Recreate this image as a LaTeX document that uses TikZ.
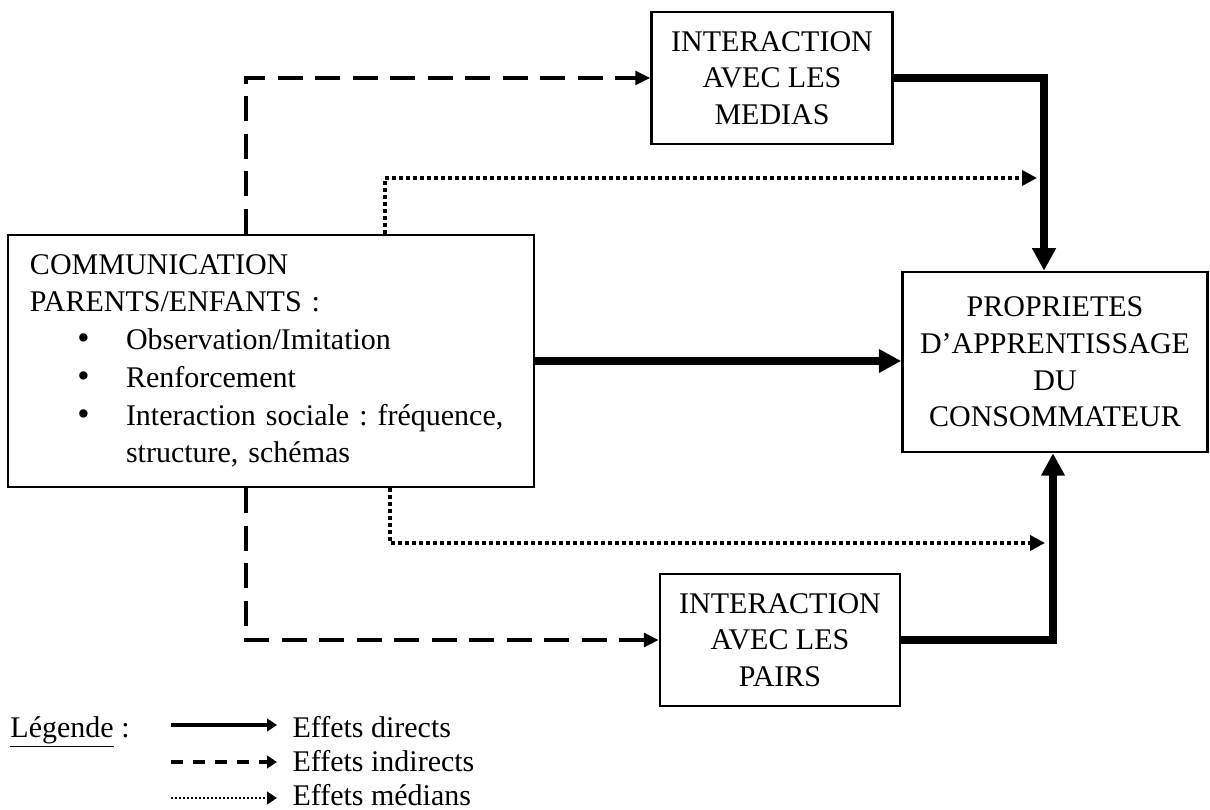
\documentclass[tikz,border=0pt]{standalone}
\usepackage{fontspec}
\setmainfont{Liberation Serif}
\usetikzlibrary{arrows.meta}
\newcommand{\puce}{\hspace*{19pt}\makebox[19.4pt][l]{\smash{\fontsize{14}{14}\selectfont\textbullet}}}

\begin{document}
\frenchspacing
\begin{tikzpicture}[x=0.4pt,y=-0.4pt]
  \tikzstyle{every node}=[font=\fontsize{12}{14.7}\selectfont]
  \tikzstyle{box}=[draw,line width=1pt,align=center,inner sep=0pt]
  \tikzstyle{direct}=[line width=3.2pt,-{Triangle[length=9pt,width=9pt]}]
  \tikzstyle{indirect}=[line width=1.3pt,dash pattern=on 10pt off 5pt,-{Triangle[length=6pt,width=5.5pt]}]
  \tikzstyle{median}=[line width=1.4pt,dash pattern=on 1.6pt off 1.2pt,-{Triangle[length=6pt,width=6pt]}]
  \tikzstyle{legtxt}=[anchor=base west,inner sep=0pt]
  \useasboundingbox (0,0) rectangle (1210,810);
  % boites
  \node[box,minimum width=210.4pt,minimum height=100.8pt,text width=192.8pt,align=left,
        font=\fontsize{12}{15.1}\selectfont] (comm) at (271,361)
       {COMMUNICATION\\PARENTS/ENFANTS :\\
        \puce Observation/Imitation\\
        \puce Renforcement\\
        \puce Interaction sociale : fr\'equence,\\
        \hspace*{38.4pt}structure, sch\'emas};
  \node[box,minimum width=96.4pt,minimum height=52.8pt] (medias) at (772,78) {INTERACTION\\AVEC LES\\MEDIAS};
  \node[box,minimum width=96pt,minimum height=52.8pt] (pairs) at (780,640) {INTERACTION\\AVEC LES\\PAIRS};
  \node[box,minimum width=122pt,minimum height=72pt] (prop) at (1055,362)
       {PROPRIETES\\D'APPRENTISSAGE\\DU\\CONSOMMATEUR};
  % points de passage
  \coordinate (dh) at (246,80);
  \coordinate (ph) at (385,178);
  \coordinate (pe) at (1037,178);
  \coordinate (pb) at (390,543);
  \coordinate (pf) at (1045,543);
  \coordinate (hautx) at (1044,0);
  \coordinate (basx) at (1053,0);
  % fleches
  \draw[indirect] (dh |- comm.north) |- (medias.west);
  \draw[median] (ph |- comm.north) |- (pe);
  \draw[direct] (medias.east) -| (prop.north -| hautx);
  \draw[direct] (comm.east) -- (comm.east -| prop.west);
  \draw[indirect] (dh |- comm.south) |- (pairs.west);
  \draw[median] (pb |- comm.south) |- (pf);
  \draw[direct] (pairs.east) -| (prop.south -| basx);
  % legende
  \node[legtxt] (leg) at (10,737) {\underline{L\'egende} :};
  \coordinate (l1) at (171,725);
  \coordinate (l2) at (171,762);
  \coordinate (l3) at (171,798);
  \node[legtxt] (dir) at (292,737) {Effets directs};
  \node[legtxt] (ind) at (292,771) {Effets indirects};
  \node[legtxt] (med) at (292,805) {Effets m\'edians};
  \draw[line width=1.3pt,shorten >=6pt,-{Triangle[length=4pt,width=5pt]}] (l1) -- (l1 -| dir.west);
  \draw[line width=1.3pt,dash pattern=on 4.8pt off 4pt,shorten >=6pt,-{Triangle[length=4pt,width=5pt]}] (l2) -- (l2 -| ind.west);
  \draw[line width=1.1pt,dash pattern=on 0.8pt off 0.8pt,shorten >=6pt,-{Triangle[length=4pt,width=5pt]}] (l3) -- (l3 -| med.west);
\end{tikzpicture}
\end{document}
